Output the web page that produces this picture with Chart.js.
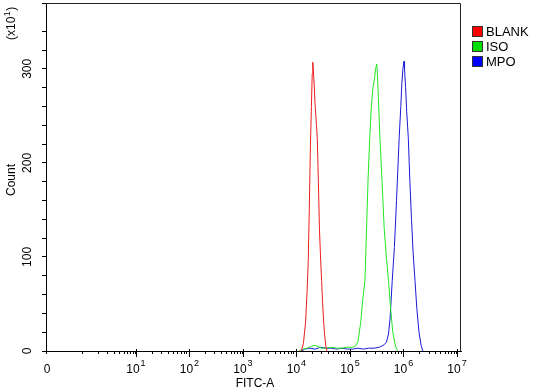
<!DOCTYPE html>
<html>
<head>
<meta charset="utf-8">
<script src="https://cdn.jsdelivr.net/npm/chart.js@4/dist/chart.umd.min.js"></script>
<style>
  html, body { margin: 0; padding: 0; background: #fff; }
  #wrap { width: 546px; height: 392px; }
</style>
</head>
<body>
<div id="wrap"><canvas id="flow" width="546" height="392"></canvas></div>
<script>
// x values are log10(FITC-A), counts are in units of x10^1
const seriesNames = ['BLANK', 'ISO', 'MPO'];
const seriesColors = ['#ee1c1c', '#22e622', '#1a1ad8'];
const legendColors = ['#ff0000', '#00dd00', '#0000ff'];

const blankX = [4.09, 4.13, 4.17, 4.20, 4.22, 4.24, 4.26, 4.28, 4.295, 4.305, 4.315, 4.33, 4.35, 4.375, 4.39, 4.41, 4.43, 4.45, 4.47, 4.49, 4.51, 4.53, 4.55, 4.57];
const blankY = [0, 8, 30, 65, 95, 150, 215, 260, 295, 307, 300, 285, 260, 240, 225, 180, 130, 100, 75, 50, 30, 15, 5, 0];

const isoX = [4.05, 4.12, 4.20, 4.28, 4.33, 4.40, 4.46, 4.55, 4.65, 4.75, 4.85, 4.95, 5.05, 5.10, 5.15, 5.20, 5.24, 5.28, 5.31, 5.34, 5.37, 5.40, 5.43, 5.46, 5.48, 5.50, 5.51, 5.53, 5.56, 5.60, 5.64, 5.68, 5.72, 5.76, 5.80, 5.84, 5.87, 5.90];
const isoY = [0, 2, 3, 5, 6, 5, 3, 3, 4, 3, 3, 4, 4, 5, 10, 30, 55, 75, 130, 185, 227, 260, 280, 290, 300, 305, 298, 270, 227, 180, 130, 100, 75, 45, 20, 8, 2, 0];

const mpoX = [4.10, 4.15, 4.25, 4.35, 4.45, 4.55, 4.65, 4.75, 4.85, 4.95, 5.05, 5.15, 5.25, 5.35, 5.45, 5.55, 5.62, 5.68, 5.72, 5.75, 5.79, 5.83, 5.87, 5.90, 5.92, 5.95, 5.97, 5.99, 6.01, 6.02, 6.04, 6.06, 6.09, 6.12, 6.15, 6.18, 6.215, 6.25, 6.29, 6.33, 6.36];
const mpoY = [0, 2, 3, 2, 4, 3, 3, 2, 3, 2, 2, 3, 2, 3, 3, 4, 6, 9, 18, 35, 75, 110, 160, 200, 227, 260, 285, 300, 308, 300, 280, 255, 227, 180, 140, 105, 75, 45, 20, 6, 0];

// axis ticks
const xZero = -0.68;            // where "0" sits on the log axis
const xMajorExps = [1, 2, 3, 4, 5, 6, 7];
const yLabelValues = [0, 100, 200, 300];
const yMax = 370;

function toPoints(xs, ys) {
    return xs.map((x, i) => ({x: x, y: ys[i]}));
}

function buildXTicks() {
    let ticks = [{value: xZero}];
    for (let d = 0; d < 7; d++) {
        for (let k = (d === 0 ? 1 : 2); k <= 9; k++) {
            ticks.push({value: d + Math.log10(k)});
        }
        ticks.push({value: d + 1, major: true});
    }
    return ticks;
}

function drawRotated(ctx, text, x, y) {
    ctx.save();
    ctx.translate(x, y);
    ctx.rotate(-Math.PI / 2);
    ctx.textAlign = 'center';
    ctx.textBaseline = 'middle';
    ctx.fillText(text, 0, 0);
    ctx.restore();
}

const font = '"Liberation Sans", Arial, sans-serif';

const decorations = {
    id: 'decorations',
    afterDraw(chart) {
        const ctx = chart.ctx;
        const a = chart.chartArea;
        const xs = chart.scales.x, ys = chart.scales.y;
        ctx.save();

        // top and right side of the box
        ctx.strokeStyle = '#222';
        ctx.lineWidth = 1;
        ctx.beginPath();
        ctx.moveTo(a.left, a.top + 0.5);
        ctx.lineTo(a.right - 0.5, a.top + 0.5);
        ctx.lineTo(a.right - 0.5, a.bottom);
        ctx.stroke();

        // major x ticks poke a bit above the axis
        ctx.strokeStyle = '#000';
        xMajorExps.forEach((e) => {
            const px = Math.round(xs.getPixelForValue(e)) + 0.5;
            ctx.beginPath();
            ctx.moveTo(px, a.bottom - 2);
            ctx.lineTo(px, a.bottom + 6);
            ctx.stroke();
        });

        ctx.fillStyle = '#000';
        // y tick labels, rotated
        ctx.font = '12px ' + font;
        yLabelValues.forEach((v) => {
            drawRotated(ctx, String(v), 28, ys.getPixelForValue(v));
        });

        // x tick labels
        ctx.textBaseline = 'alphabetic';
        ctx.textAlign = 'center';
        ctx.font = '12px ' + font;
        ctx.fillText('0', xs.getPixelForValue(xZero) + 1, 373);
        xMajorExps.forEach((e) => {
            const px = xs.getPixelForValue(e);
            ctx.font = '12px ' + font;
            const w = ctx.measureText('10').width;
            ctx.textAlign = 'left';
            ctx.fillText('10', px - w / 2 - 3, 373);
            ctx.font = '9px ' + font;
            ctx.fillText(String(e), px + w / 2 - 2, 366);
        });

        // axis titles
        ctx.font = '12px ' + font;
        ctx.textAlign = 'center';
        ctx.fillText('FITC-A', 255, 387);
        drawRotated(ctx, 'Count', 12, 180);

        // (x10^1) multiplier
        ctx.save();
        ctx.translate(12, 40);
        ctx.rotate(-Math.PI / 2);
        ctx.textAlign = 'left';
        ctx.textBaseline = 'middle';
        ctx.font = '12px ' + font;
        ctx.fillText('(x10', 0, 0);
        let w = ctx.measureText('(x10').width;
        ctx.font = '9px ' + font;
        ctx.fillText('1', w + 0.5, -4);
        let w2 = ctx.measureText('1').width;
        ctx.font = '12px ' + font;
        ctx.fillText(')', w + w2 + 1, 0);
        ctx.restore();

        // legend
        seriesNames.forEach((name, i) => {
            const top = 26 + i * 15;
            ctx.fillStyle = legendColors[i];
            ctx.fillRect(472, top, 11, 11);
            ctx.strokeStyle = '#333';
            ctx.strokeRect(472.5, top + 0.5, 10, 10);
            ctx.fillStyle = '#000';
            ctx.font = '13px ' + font;
            ctx.textAlign = 'left';
            ctx.textBaseline = 'middle';
            ctx.fillText(name, 486, top + 6);
        });

        ctx.restore();
    }
};

function loadFlowChart() {
    const ctx = document.getElementById('flow').getContext('2d');
    const sets = [[blankX, blankY], [isoX, isoY], [mpoX, mpoY]];
    new Chart(ctx, {
        type: 'line',
        data: {
            datasets: sets.map((s, i) => ({
                label: seriesNames[i],
                data: toPoints(s[0], s[1]),
                borderColor: seriesColors[i],
                borderWidth: 1,
                pointRadius: 0,
                tension: 0,
                fill: false
            }))
        },
        options: {
            responsive: false,
            animation: false,
            devicePixelRatio: 1,
            layout: {padding: {top: 3, right: 85, left: 0, bottom: 0}},
            plugins: {legend: {display: false}, tooltip: {enabled: false}},
            scales: {
                x: {
                    type: 'linear',
                    min: xZero,
                    max: 7.075,
                    afterBuildTicks: (scale) => { scale.ticks = buildXTicks(); },
                    afterFit: (scale) => { scale.height = 41; },
                    ticks: {display: false, autoSkip: false},
                    grid: {drawOnChartArea: false, drawTicks: true, tickLength: 3, color: '#000'},
                    border: {display: true, color: '#000'}
                },
                y: {
                    min: 0,
                    max: yMax,
                    ticks: {display: false, stepSize: 20},
                    afterFit: (scale) => { scale.width = 46; },
                    grid: {drawOnChartArea: false, drawTicks: true, tickLength: 4, color: '#000'},
                    border: {display: true, color: '#000'}
                }
            }
        },
        plugins: [decorations]
    });
}

window.addEventListener('load', () => {
    loadFlowChart();
});
</script>
</body>
</html>
